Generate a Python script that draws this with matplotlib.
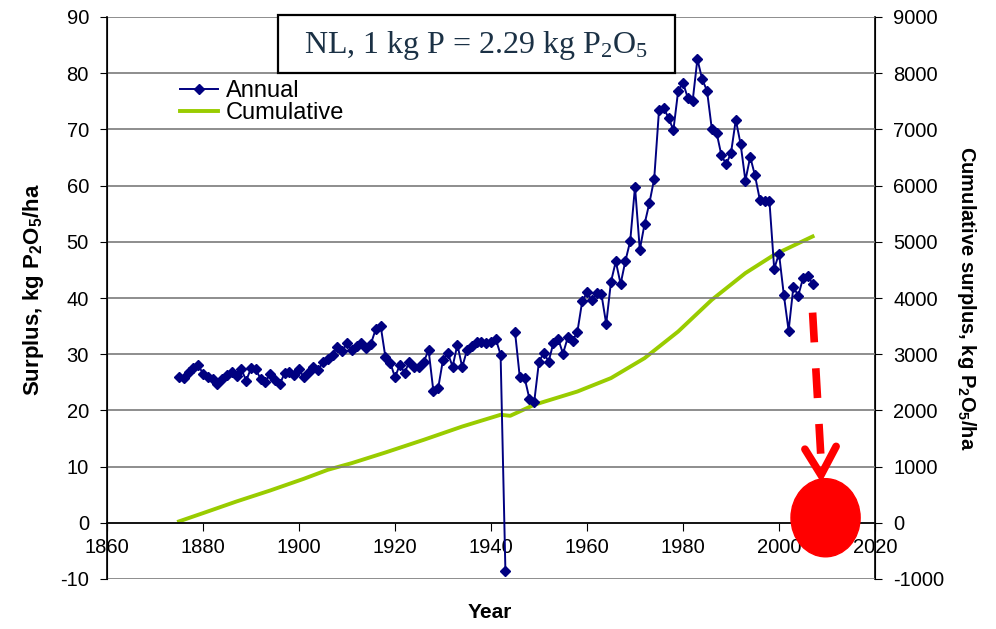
import numpy as np
import matplotlib
matplotlib.use("Agg")
import matplotlib.pyplot as plt
from matplotlib.patches import Ellipse, Rectangle
from matplotlib.lines import Line2D

plt.rcParams['font.family'] = ['Liberation Sans', 'DejaVu Sans']
plt.rcParams['mathtext.default'] = 'regular'
plt.rcParams['axes.unicode_minus'] = False

# annual P surplus, kg P2O5/ha (1944 missing)
years = np.arange(1875, 2008)
annual = [
    26.0, 25.8, 26.9, 27.5, 28.1, 26.5, 25.9, 25.6, 24.7, 25.6,   # 1875-1884
    26.3, 26.9, 26.2, 27.3, 25.3, 27.5, 27.3, 25.6, 25.1, 26.5,   # 1885-1894
    25.4, 24.7, 26.6, 26.9, 26.3, 27.3, 25.9, 26.9, 27.8, 27.1,   # 1895-1904
    28.7, 29.1, 29.9, 31.3, 30.5, 32.0, 30.7, 31.4, 32.0, 31.1,   # 1905-1914
    31.9, 34.5, 35.1, 29.5, 28.5, 25.9, 28.1, 26.7, 28.7, 27.7,   # 1915-1924
    27.8, 28.7, 30.7, 23.4, 24.0, 29.0, 30.2, 27.8, 31.7, 27.7,   # 1925-1934
    30.7, 31.5, 32.1, 32.1, 32.0, 32.1, 32.7, 29.9, -8.5, np.nan, # 1935-1944
    34.0, 25.9, 25.8, 22.1, 21.5, 28.7, 30.2, 28.7, 32.0, 32.7,   # 1945-1954
    30.1, 33.0, 32.4, 34.0, 39.4, 41.0, 39.6, 40.9, 40.7, 35.4,   # 1955-1964
    42.9, 46.5, 42.5, 46.6, 50.1, 59.8, 48.6, 53.2, 56.9, 61.2,   # 1965-1974
    73.4, 73.8, 72.0, 69.9, 76.9, 78.3, 75.6, 75.0, 82.5, 78.9,   # 1975-1984
    76.9, 70.1, 69.4, 65.4, 63.8, 65.8, 71.7, 67.4, 60.9, 65.1,   # 1985-1994
    61.8, 57.5, 57.3, 57.3, 45.2, 47.9, 40.6, 34.2, 42.0, 40.4,   # 1995-2004
    43.5, 44.0, 42.5,                                             # 2005-2007
]

# cumulative surplus, kg P2O5/ha
cum_years = [1875, 1880, 1887, 1894, 1901, 1906, 1911, 1918, 1926, 1934, 1942,
             1944, 1949, 1958, 1965, 1972, 1979, 1986, 1993, 1999, 2007]
cumulative = [25, 172, 380, 575, 783, 943, 1062, 1251, 1477, 1713, 1922,
              1904, 2100, 2336, 2575, 2930, 3404, 3968, 4443, 4769, 5095]

x_ticks = np.arange(1860, 2021, 20)
left_ticks = np.arange(-10, 91, 10)
right_ticks = np.arange(-1000, 9001, 1000)

navy = '#000080'
green = '#99cc00'
red = '#ff0000'

fig = plt.figure(figsize=(9.96, 6.29), dpi=100)
ax = fig.add_axes([107 / 996, 1 - 579 / 629, 768 / 996, 562 / 629])
ax2 = ax.twinx()

ax.set_xlim(1860, 2020)
ax.set_ylim(-10, 90)
ax2.set_ylim(-1000, 9000)

ax.set_yticks(left_ticks)
ax.set_xticks(x_ticks)
ax2.set_yticks(right_ticks)

ax.grid(axis='y', color='#7a7a7a', lw=1.2)
ax.set_axisbelow(True)

ax.spines['top'].set_visible(False)
ax2.spines['top'].set_visible(False)
ax2.spines['bottom'].set_visible(False)
ax.spines['bottom'].set_position(('data', 0))
for sp in [ax.spines['left'], ax.spines['bottom'], ax2.spines['right']]:
    sp.set_color('black')
    sp.set_linewidth(1.2)

ax.tick_params(axis='x', direction='out', length=6, pad=5, labelsize=14.5)
ax.tick_params(axis='y', direction='out', length=5, pad=8, labelsize=14.5)
ax2.tick_params(axis='y', direction='out', length=5, pad=8, labelsize=14.5)

ax2.plot(cum_years, cumulative, color=green, lw=2.8, zorder=2)
ax.plot(years, annual, color=navy, lw=1.4, marker='D', ms=4.8, zorder=3)
ax.set_zorder(ax2.get_zorder() + 1)
ax.patch.set_visible(False)

ax.set_ylabel('Surplus, kg P$_2$O$_5$/ha', fontsize=16, fontweight='bold')
ax.yaxis.set_label_coords(-(107 - 34) / 768, 0.515)
ax.yaxis.label.set_va('center')
ax2.set_ylabel('Cumulative surplus, kg P$_2$O$_5$/ha', fontsize=14.5, fontweight='bold',
               rotation=-90)
ax2.yaxis.set_label_coords((966 - 107) / 768, 0.5)
ax2.yaxis.label.set_va('center')
ax.set_xlabel('Year', fontsize=15, fontweight='bold')
ax.xaxis.set_label_coords((490 - 107) / 768, -(613 - 579) / 562)
ax.xaxis.label.set_va('center')

# red marker: dashed arrow falling onto a dot
ax.plot([2007.0, 2008.7], [37.4, 12.1], color=red, lw=5.5,
        ls=(0, (3.9, 3.4)), dash_capstyle='butt', zorder=4)
ax.plot([2005.4, 2008.75, 2011.9], [13.1, 8.5, 13.6], color=red, lw=5.5,
        solid_capstyle='round', solid_joinstyle='miter', zorder=4)
ax.add_patch(Ellipse((2009.7, 0.9), 14.4, 13.9, color=red, zorder=4, clip_on=False))

# title box
fig.add_artist(Rectangle((278 / 996, 1 - 73 / 629), 397 / 996, 58 / 629,
                         transform=fig.transFigure, facecolor='white',
                         edgecolor='black', lw=1.6, zorder=5))
fig.text(476 / 996, 1 - 45 / 629, 'NL, 1 kg P = 2.29 kg P$_2$O$_5$',
         family='Liberation Serif', fontsize=23, color='#1b3145',
         ha='center', va='center', zorder=6)

handles = [Line2D([], [], color=navy, lw=1.4, marker='D', ms=4.8),
           Line2D([], [], color=green, lw=2.8)]
fig.legend(handles, ['Annual', 'Cumulative'], loc='upper left',
           bbox_to_anchor=(180 / 996, 1 - 80 / 629), frameon=False,
           fontsize=17, handlelength=1.6, handletextpad=0.35,
           labelspacing=0.0, borderpad=0, borderaxespad=0)

fig.savefig('out.png', dpi=100)
